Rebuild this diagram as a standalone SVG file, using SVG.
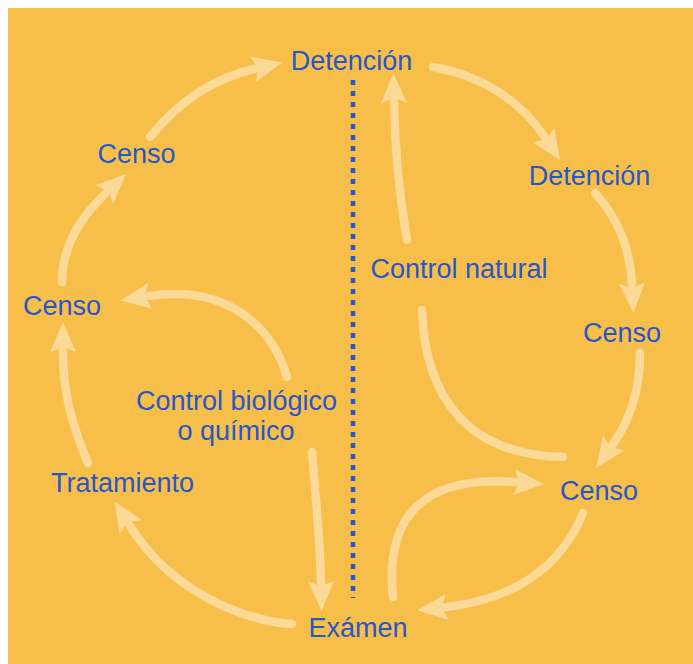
<svg xmlns="http://www.w3.org/2000/svg" width="693" height="664" viewBox="0 0 693 664">
<defs>
<style>
.lbl{font-family:"Liberation Sans",Arial,sans-serif;font-size:27px;fill:#2557C9;text-anchor:middle}
.arr{fill:none;stroke:#FCE2AE;stroke-width:8.5;stroke-linecap:round}
</style>
<marker id="head" viewBox="0 0 30 26" refX="1" refY="13" markerWidth="30" markerHeight="26" markerUnits="userSpaceOnUse" orient="auto">
<path d="M0,0 L30,13 L0,26 L5,13 z" fill="#FCE2AE"/>
</marker>
</defs>
<rect x="0" y="0" width="693" height="664" fill="#FFFFFF"/>
<rect x="8" y="8" width="685" height="656" fill="#F8BE4A"/>
<g id="connectors">
<g opacity="0.78">
<path class="arr" d="M292,624 C240,620 170,590 130,526" marker-end="url(#head)"/>
<path class="arr" d="M88,463 C70,420 63,390 63,351" marker-end="url(#head)"/>
<path class="arr" d="M62,282 C62,250 78,220 105,194" marker-end="url(#head)"/>
<path class="arr" d="M150,137 C180,100 215,78 254,69" marker-end="url(#head)"/>
<path class="arr" d="M287,377 C270,320 220,285 149,296" marker-end="url(#head)"/>
<path class="arr" d="M312,452 C316,500 320,540 321,582" marker-end="url(#head)"/>
<path class="arr" d="M407,240 C400,200 395,150 394,102" marker-end="url(#head)"/>
<path class="arr" d="M433,67 C480,75 520,100 544,136" marker-end="url(#head)"/>
<path class="arr" d="M595,193 C615,215 630,245 632,284" marker-end="url(#head)"/>
<path class="arr" d="M640,353 C640,390 630,420 613,444" marker-end="url(#head)"/>
<path class="arr" d="M422,310 C425,400 470,455 563,457"/>
<path class="arr" d="M393,597 C385,520 420,475 515,482" marker-end="url(#head)"/>
<path class="arr" d="M583,513 C560,570 510,600 446,607" marker-end="url(#head)"/>
</g>
<line x1="353" y1="80" x2="353" y2="598" stroke="#2557C9" stroke-width="4.5" stroke-dasharray="5 6"/>
</g>
<g id="n-detencion-top"><text class="lbl" x="351.5" y="70">Detención</text></g>
<g id="n-censo-ul"><text class="lbl" x="136.5" y="163">Censo</text></g>
<g id="n-censo-l"><text class="lbl" x="62" y="315">Censo</text></g>
<g id="n-control-bio"><text class="lbl" x="236.5" y="410">Control biológico</text><text class="lbl" x="236" y="440">o químico</text></g>
<g id="n-tratamiento"><text class="lbl" x="122.5" y="492">Tratamiento</text></g>
<g id="n-examen"><text class="lbl" x="358" y="637">Exámen</text></g>
<g id="n-detencion-r"><text class="lbl" x="589.5" y="185">Detención</text></g>
<g id="n-control-nat"><text class="lbl" x="459" y="278">Control natural</text></g>
<g id="n-censo-r"><text class="lbl" x="622" y="342">Censo</text></g>
<g id="n-censo-lr"><text class="lbl" x="599" y="500">Censo</text></g>
</svg>
